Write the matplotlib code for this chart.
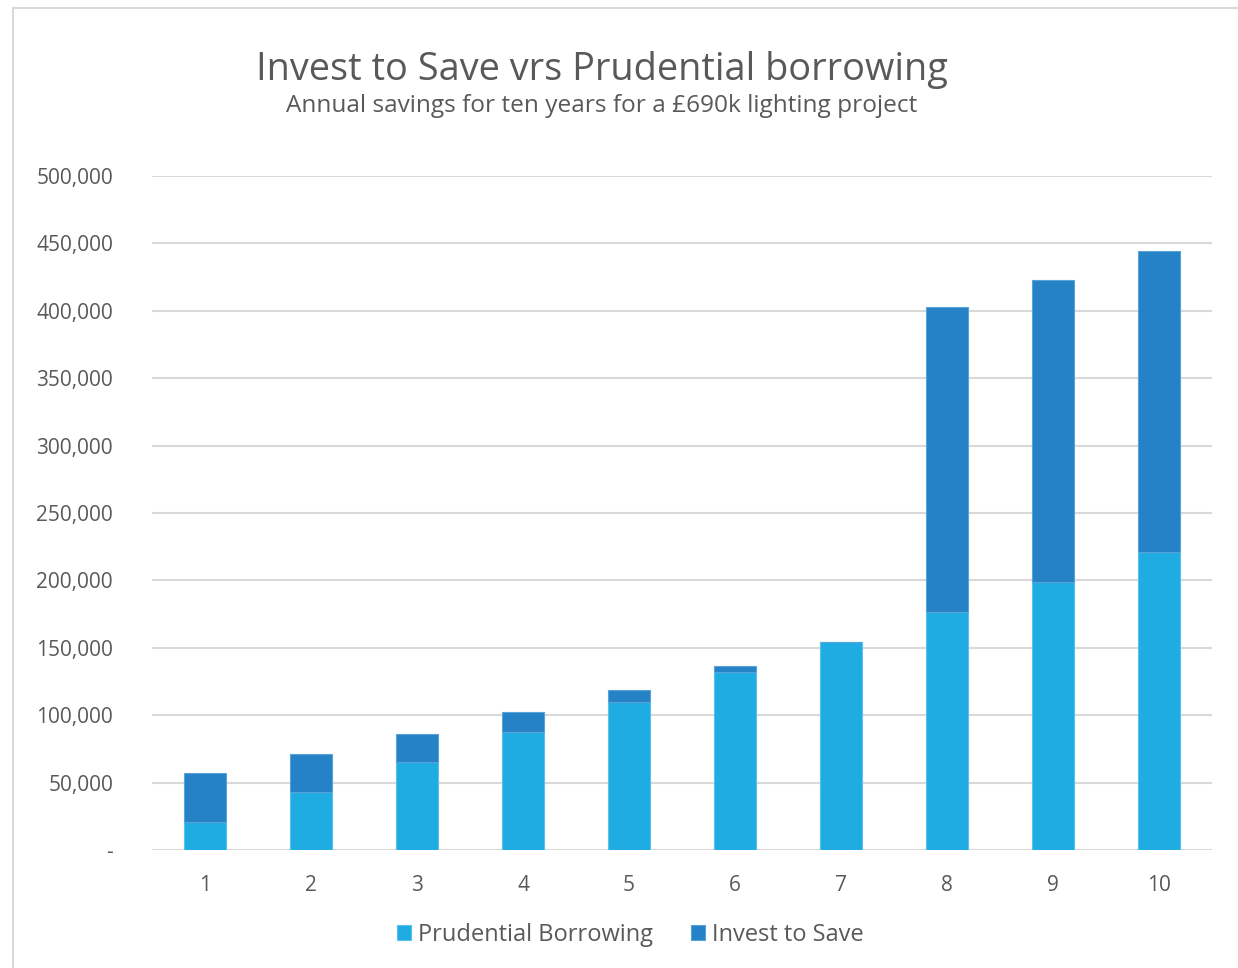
import matplotlib
matplotlib.use("Agg")
import matplotlib.pyplot as plt
from matplotlib.patches import Rectangle
from matplotlib.ticker import FuncFormatter

years = ["1", "2", "3", "4", "5", "6", "7", "8", "9", "10"]
prudential = [20600, 42900, 65200, 87400, 109800, 132000, 154300, 176600, 198800, 221000]
invest_total = [57000, 71300, 86200, 102300, 118700, 136200, 154300, 402700, 422900, 444300]
invest = [t - p for t, p in zip(invest_total, prudential)]

c_pb = "#1EACE3"
c_its = "#2682C6"
grey = "#595959"
plt.rcParams["font.family"] = ["Open Sans", "DejaVu Sans"]

fig = plt.figure(figsize=(12.38, 9.68), dpi=100)
fig.patches.append(Rectangle((13 / 1238, -0.1), 1.2, 1 - 8 / 968 + 0.1,
                             transform=fig.transFigure, fill=False,
                             edgecolor="#d9d9d9", linewidth=1.5))

ax = fig.add_axes([152 / 1238, 1 - 850 / 968, 1060 / 1238, 674 / 968])
x = list(range(1, len(years) + 1))
ax.bar(x, prudential, width=0.4, color=c_pb, edgecolor="#5cc0ea", linewidth=0.8,
       label="Prudential Borrowing", zorder=3)
ax.bar(x, invest, width=0.4, bottom=prudential, color=c_its, edgecolor="#5aa3d8",
       linewidth=0.8, label="Invest to Save", zorder=3)

ax.set_xlim(0.5, 10.5)
ax.set_ylim(0, 500000)
ax.set_yticks(range(0, 500001, 50000))
ax.yaxis.set_major_formatter(FuncFormatter(lambda v, p: "-" if v == 0 else f"{int(v):,}"))
ax.set_xticks(x)
ax.set_xticklabels(years)
ax.grid(axis="y", color="#d9d9d9", linewidth=1.5, zorder=0)
for s in ax.spines.values():
    s.set_visible(False)
ax.tick_params(length=0, labelsize=15, labelcolor=grey)
ax.tick_params(axis="y", pad=28)
ax.tick_params(axis="x", pad=18)
for lab in ax.get_yticklabels():
    lab.set_horizontalalignment("right")

fig.text(0.486, 1 - 70 / 968, "Invest to Save vrs Prudential borrowing",
         ha="center", va="center", fontsize=27.3, color=grey)
fig.text(0.486, 1 - 106 / 968, "Annual savings for ten years for a £690k lighting project",
         ha="center", va="center", fontsize=17.6, color=grey)

fig.legend(loc="center", bbox_to_anchor=(0.509, 1 - 935 / 968), ncol=2, frameon=False,
           fontsize=17, labelcolor=grey, handlelength=0.6, handleheight=0.6,
           handletextpad=0.3, columnspacing=1.6)

fig.savefig("out.png", dpi=100, facecolor="white")
